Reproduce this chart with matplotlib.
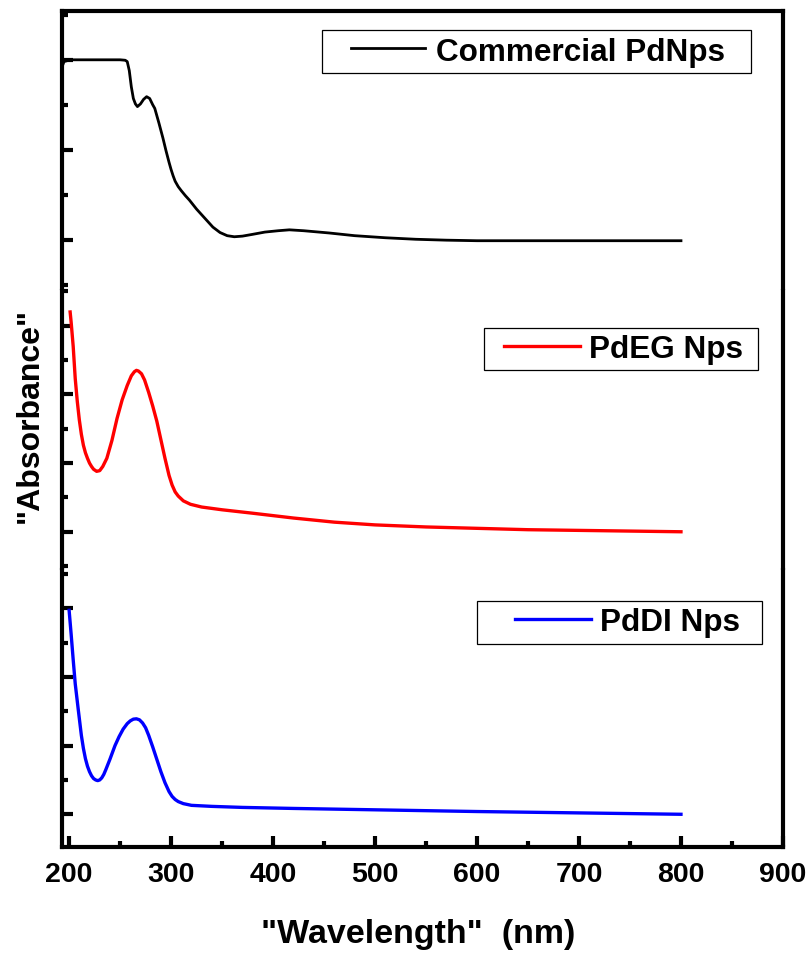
import matplotlib
matplotlib.use('Agg')
import matplotlib.pyplot as plt
from matplotlib.ticker import MultipleLocator
from matplotlib.legend_handler import HandlerLine2D

plt.rcParams['font.family'] = ['Liberation Sans', 'DejaVu Sans']
plt.rcParams['font.weight'] = 'bold'

# commercial PdNps (top panel, arbitrary offset units)
wl_comm = [193, 195, 198, 202, 210, 230, 250, 255, 257, 259, 261, 263, 265, 267,
           270, 273, 276, 279, 282, 284, 288, 292, 295, 298, 300, 302, 304, 307,
           310, 314, 318, 325, 333, 341, 348, 355, 362, 370, 380, 392, 405, 416,
           430, 455, 480, 510, 540, 570, 600, 700, 800]
abs_comm = [1.92, 1.98, 1.99, 2.0, 2.0, 2.0, 2.0, 1.995, 1.98, 1.88, 1.70, 1.57,
            1.51, 1.48, 1.51, 1.56, 1.59, 1.57, 1.50, 1.46, 1.30, 1.13, 0.99,
            0.86, 0.78, 0.71, 0.65, 0.59, 0.545, 0.49, 0.44, 0.34, 0.24, 0.14,
            0.08, 0.045, 0.033, 0.04, 0.06, 0.085, 0.10, 0.11, 0.10, 0.075,
            0.045, 0.022, 0.005, -0.005, -0.011, -0.011, -0.011]

# PdEG Nps (middle panel)
wl_eg = [201, 202, 204, 206, 208, 210, 212, 214, 216, 218, 220, 222, 224, 227,
         230, 233, 237, 242, 247, 252, 257, 261, 264, 266, 268, 271, 274, 278,
         282, 286, 290, 294, 298, 301, 304, 307, 312, 319, 330, 350, 380, 420,
         460, 500, 550, 600, 650, 700, 750, 800]
abs_eg = [3.20, 3.05, 2.70, 2.23, 1.90, 1.63, 1.42, 1.26, 1.15, 1.07, 1.00, 0.95,
          0.91, 0.88, 0.89, 0.95, 1.07, 1.33, 1.65, 1.92, 2.13, 2.27, 2.33, 2.35,
          2.34, 2.30, 2.21, 2.03, 1.83, 1.61, 1.34, 1.07, 0.82, 0.68, 0.58,
          0.52, 0.45, 0.40, 0.36, 0.32, 0.27, 0.20, 0.14, 0.10, 0.07, 0.05,
          0.03, 0.02, 0.01, 0.0]

# PdDI Nps (bottom panel)
wl_di = [200, 202, 204, 206, 209, 212, 214, 216, 218, 220, 222, 224, 226, 228,
         230, 232, 234, 236, 240, 245, 249, 253, 257, 260, 263, 266, 269, 272,
         275, 278, 282, 286, 290, 294, 298, 301, 304, 307, 312, 320, 340, 370,
         420, 500, 600, 700, 800]
abs_di = [2.97, 2.62, 2.25, 1.90, 1.52, 1.15, 0.96, 0.81, 0.70, 0.62, 0.56, 0.52,
          0.50, 0.49, 0.50, 0.53, 0.58, 0.65, 0.80, 1.00, 1.13, 1.24, 1.32, 1.36,
          1.385, 1.39, 1.375, 1.33, 1.26, 1.15, 0.98, 0.80, 0.62, 0.46, 0.33,
          0.26, 0.215, 0.185, 0.155, 0.13, 0.115, 0.10, 0.085, 0.065, 0.04,
          0.02, 0.0]

xticks = [200, 300, 400, 500, 600, 700, 800, 900]

fig = plt.figure(figsize=(8.08, 9.54), dpi=100)
gs = fig.add_gridspec(3, 1, left=0.0767, right=0.969, top=0.987, bottom=0.111,
                      hspace=0.01)
ax_top = fig.add_subplot(gs[0])
ax_mid = fig.add_subplot(gs[1], sharex=ax_top)
ax_bot = fig.add_subplot(gs[2], sharex=ax_top)

ax_top.plot(wl_comm, abs_comm, color='black', lw=2.0, label='Commercial PdNps')
ax_mid.plot(wl_eg, abs_eg, color='red', lw=2.4, label='PdEG Nps')
ax_bot.plot(wl_di, abs_di, color='blue', lw=2.4, label='PdDI Nps')

ax_top.set_ylim(-0.538, 2.538)
ax_mid.set_ylim(-0.522, 3.507)
ax_bot.set_ylim(-0.478, 3.551)
ax_top.set_xlim(193, 900)

for ax in (ax_top, ax_mid, ax_bot):
    for s in ax.spines.values():
        s.set_linewidth(3)
    ax.yaxis.set_major_locator(MultipleLocator(1))
    ax.yaxis.set_minor_locator(MultipleLocator(0.5))
    ax.tick_params(axis='y', which='both', direction='in', left=True, right=False,
                   labelleft=False)
    ax.tick_params(axis='y', which='major', length=8, width=3)
    ax.tick_params(axis='y', which='minor', length=4.5, width=3)
    ax.tick_params(axis='x', which='both', bottom=False, top=False,
                   labelbottom=False)

ax_top.spines['bottom'].set_visible(False)
ax_mid.spines['top'].set_visible(False)
ax_mid.spines['bottom'].set_visible(False)
ax_bot.spines['top'].set_visible(False)

ax_bot.set_xticks(xticks)
ax_bot.xaxis.set_minor_locator(MultipleLocator(50))
ax_bot.tick_params(axis='x', which='both', direction='in', bottom=True,
                   labelbottom=True, labelsize=20.5, pad=10)
ax_bot.tick_params(axis='x', which='major', length=8, width=3)
ax_bot.tick_params(axis='x', which='minor', length=4.5, width=3)

# legends: (axes, x0, width, top, xpad, handlelength, textpad)
leg_specs = [
    (ax_top, 0.361, 0.594, 0.932, 0.70, 3.06, 0.35),
    (ax_mid, 0.585, 0.380, 0.867, 0.44, 2.86, 0.28),
    (ax_bot, 0.576, 0.395, 0.889, 0.99, 3.41, 0.28),
]
for ax, x0, w, top, xpad, hl, tp in leg_specs:
    line = ax.get_lines()[0]
    leg = ax.legend(loc='upper left', bbox_to_anchor=(x0, top - 0.2, w, 0.2),
                    mode='expand', borderaxespad=0, fontsize=22.7,
                    fancybox=False, edgecolor='black', framealpha=1,
                    borderpad=0.2, handlelength=hl, handletextpad=tp,
                    handler_map={line: HandlerLine2D(xpad=xpad)})
    leg.get_frame().set_linewidth(0.9)

fig.text(0.037, 0.565, '"Absorbance"', rotation=90, fontsize=23,
         fontweight='bold', ha='center', va='center')
fig.text(0.517, 0.0115, '"Wavelength"  (nm)', fontsize=24.5, fontweight='bold',
         ha='center', va='baseline')

plt.savefig('out.png', dpi=100)
